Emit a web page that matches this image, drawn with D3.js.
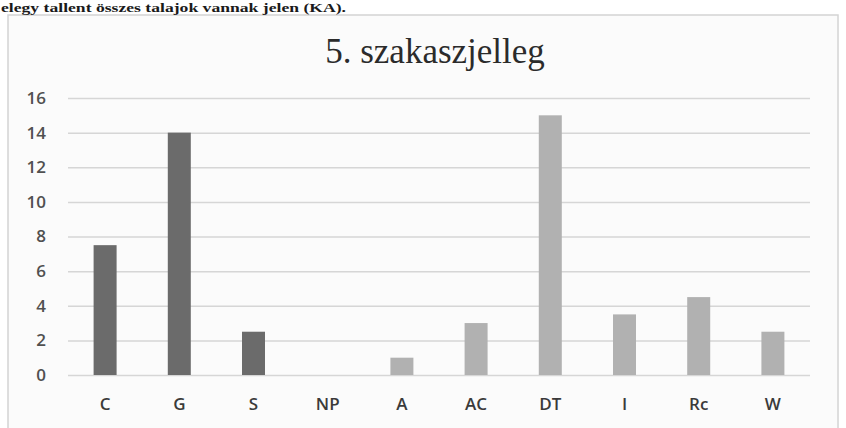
<!DOCTYPE html>
<html><head><meta charset="utf-8">
<script src="https://cdn.jsdelivr.net/npm/d3@7"></script>
<style>html,body{margin:0;padding:0;background:#fff;overflow:hidden}</style>
</head><body><svg id="c" width="846" height="428"></svg>
<script>
const categories = ["C","G","S","NP","A","AC","DT","I","Rc","W"];
const values = [7.5,14,2.5,0,1,3,15,3.5,4.5,2.5];
const groups = ["dark","dark","dark","dark","light","light","light","light","light","light"];
const yTicks = [0,2,4,6,8,10,12,14,16];
const titleText = "5. szakaszjelleg";
const headerText = "elegy tallent összes talajok vannak jelen (KA).";

const svg = d3.select("#c");
const W = 846, H = 428;
const m = {left:68, right:36, top:98, bottom:53};
const x = d3.scaleBand().domain(categories).range([m.left, W - m.right]).paddingInner(0.69).paddingOuter(0.345);
const y = d3.scaleLinear().domain([0,16]).range([H - m.bottom, m.top]);
const colors = {dark:"#6b6b6b", light:"#b1b1b1"};

// chart frame
svg.append("rect").attr("x",8).attr("y",15).attr("width",830).attr("height",420)
  .attr("fill","#fbfbfb").attr("stroke","#d4d4d4").attr("stroke-width",1.5);

// header text (line of the scanned page above the chart)
svg.append("text").attr("x",1).attr("y",12).attr("font-family","Liberation Serif, serif")
  .attr("font-size",12).attr("font-weight","bold").attr("fill","#1a1a1a")
  .attr("textLength",345).attr("lengthAdjust","spacingAndGlyphs").text(headerText);

// title
svg.append("text").attr("x",435).attr("y",63).attr("text-anchor","middle")
  .attr("font-family","Liberation Serif, serif").attr("font-size",35).attr("fill","#2b2b2b").text(titleText);

// gridlines + y axis
const ya = svg.append("g").attr("transform",`translate(${m.left},0)`)
  .call(d3.axisLeft(y).tickValues(yTicks).tickSize(-(W - m.left - m.right)).tickPadding(22));
ya.select(".domain").remove();
ya.selectAll(".tick line").attr("stroke","#d6d6d6").attr("stroke-width",1.5);
ya.selectAll(".tick text").attr("font-family","Open Sans, Lato, sans-serif").attr("font-size",17)
  .attr("fill","#505050").attr("font-weight","600");

// bars
svg.append("g").selectAll("rect").data(categories).join("rect")
  .attr("x", d => x(d)).attr("width", x.bandwidth())
  .attr("y", (d,i) => y(values[i])).attr("height", (d,i) => y(0) - y(values[i]))
  .attr("fill", (d,i) => colors[groups[i]]);

// x axis labels
const xa = svg.append("g").attr("transform",`translate(0,${H - m.bottom})`)
  .call(d3.axisBottom(x).tickSize(0).tickPadding(23));
xa.select(".domain").remove();
xa.selectAll(".tick text").attr("font-family","Open Sans, Lato, sans-serif").attr("font-size",17)
  .attr("fill","#3a3a3a").attr("font-weight","600");
</script></body></html>
